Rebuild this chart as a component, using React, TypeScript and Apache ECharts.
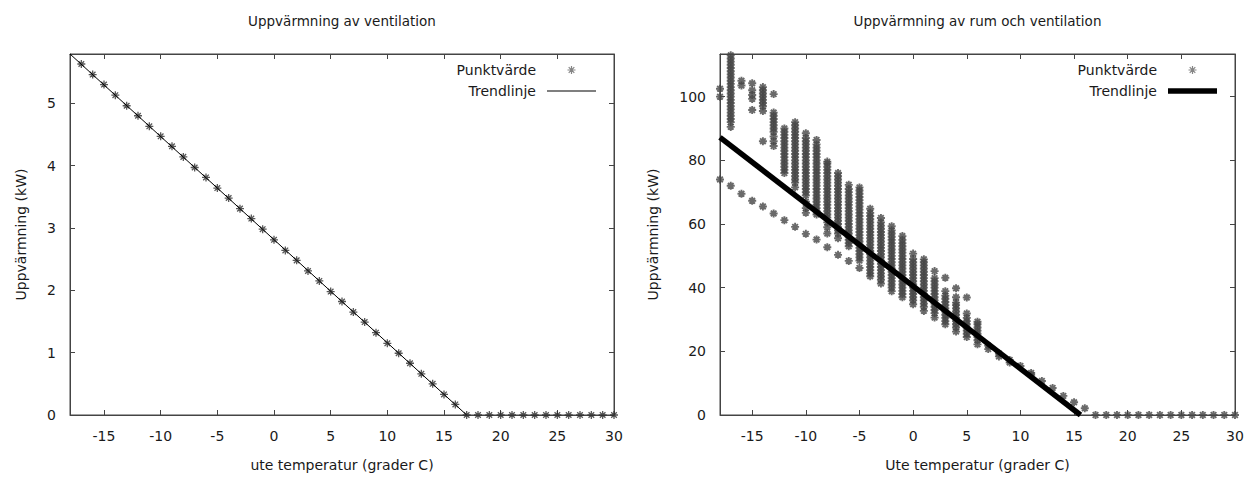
import React, { useEffect, useRef } from 'react';
import * as echarts from 'echarts';

const FONT = '"DejaVu Sans", "Liberation Sans", Arial, sans-serif';
const TEXT = '#1a1a1a';
const AXIS = '#444';

// ---------- Left chart: Uppvärmning av ventilation ----------
const ventTemp = [-17, -16, -15, -14, -13, -12, -11, -10, -9, -8, -7, -6, -5, -4, -3, -2, -1, 0, 1, 2, 3, 4, 5, 6, 7, 8, 9, 10, 11, 12, 13, 14, 15, 16, 17, 18, 19, 20, 21, 22, 23, 24, 25, 26, 27, 28, 29, 30];
const ventLoad = [5.63, 5.46, 5.3, 5.13, 4.96, 4.8, 4.63, 4.47, 4.31, 4.14, 3.97, 3.81, 3.64, 3.48, 3.31, 3.15, 2.98, 2.81, 2.64, 2.48, 2.31, 2.15, 1.98, 1.82, 1.65, 1.49, 1.32, 1.15, 0.99, 0.83, 0.66, 0.5, 0.33, 0.17, 0, 0, 0, 0, 0, 0, 0, 0, 0, 0, 0, 0, 0, 0];
const ventTrendTemp = [-18, 17];
const ventTrendLoad = [5.79, 0];
const ventYTicks = [0, 1, 2, 3, 4, 5];

// ---------- Right chart: Uppvärmning av rum och ventilation ----------
const roomTemp = [-18, -17, -16, -15, -14, -13, -12, -11, -10, -9, -8, -7, -6, -5, -4, -3, -2, -1, 0, 1, 2, 3, 4, 5, 6, 7, 8, 9, 10, 11, 12, 13, 14, 15, 16, 17, 18, 19, 20, 21, 22, 23, 24, 25, 26, 27, 28, 29, 30];
const roomLoad: number[][] = [
  [74, 100, 102.5],
  [72, 90.5, 92, 93, 94, 95, 96, 97, 98, 99, 100, 101, 102, 103, 104, 105, 106, 107, 108, 109, 110, 111, 112, 113],
  [69.5, 103.5, 105],
  [67.3, 95.8, 99.3, 100.5, 102, 104.2],
  [65.5, 86, 95.5, 97, 98, 99, 100, 101, 102, 103],
  [63.3, 84.5, 86, 87.5, 89, 90, 91, 92, 93, 94, 95, 100.8],
  [61.2, 76, 77, 78, 79, 80, 81, 82, 83, 84, 85, 86, 87, 88, 89, 90],
  [59.1, 71.5, 73, 74, 75, 76, 77, 78, 79, 80, 81, 82, 83, 84, 85, 86, 87, 88, 89, 90, 91, 92],
  [56.9, 63.5, 65, 67, 69, 70, 71, 72, 73, 74, 75, 76, 77, 78, 79, 80, 81, 82, 83, 84, 85, 86, 87, 88.5],
  [55.1, 63, 64, 65, 66, 67, 68, 69, 70, 71, 72, 73, 74, 75, 76, 77, 78, 79, 80, 81, 82, 83, 84, 85, 86.4],
  [52.7, 57, 59, 60.5, 62, 63, 64, 65, 66, 67, 68, 69, 70, 71, 72, 73, 74, 75, 76, 77, 78, 79, 79.6],
  [50.3, 55.5, 57, 58, 59, 60, 61, 62, 63, 64, 65, 66, 67, 68, 69, 70, 71, 72, 73, 74, 75, 76],
  [48.4, 53, 54, 55, 56, 57, 58, 59, 60, 61, 62, 63, 64, 65, 66, 67, 68, 69, 70, 71, 72.3],
  [46.2, 48.5, 49.5, 50.5, 51.5, 52.5, 53.5, 54.5, 55.5, 56.5, 57.5, 58.5, 59.5, 60.5, 61.5, 62.5, 63.5, 64.5, 65.5, 66.5, 67.5, 68.5, 69.5, 70.5, 71.5],
  [43.6, 44.5, 45.5, 46.5, 47.5, 48.5, 49.5, 50.5, 51.5, 52.5, 53.5, 54.5, 55.5, 56.5, 57.5, 58.5, 59.5, 60.5, 61.5, 62.5, 63.5, 64.8],
  [41.3, 42.5, 43.5, 44.5, 45.5, 46.5, 47.5, 48.5, 49.5, 50.5, 51.5, 52.5, 53.5, 54.5, 55.5, 56.5, 57.5, 58.5, 59.5, 60.5, 61.9],
  [38.9, 40, 41, 42, 43, 44, 45, 46, 47, 48, 49, 50, 51, 52, 53, 54, 55, 56, 57, 58, 59.3],
  [37, 38, 39, 40, 41, 42, 43, 44, 45, 46, 47, 48, 49, 50, 51, 52, 53, 54, 55, 56.2],
  [34.8, 36, 37, 38, 39, 40, 41, 42, 43, 44, 45, 46, 47, 48, 49, 50.7],
  [32.7, 34, 35, 36, 37, 38, 39, 40, 41, 42, 43, 44, 45, 46, 47, 48, 48.9],
  [30.6, 32, 33, 34, 35, 36, 37, 38, 39, 40, 41, 42, 43, 45.2],
  [28.5, 29.5, 30.5, 31.5, 32.5, 33.5, 34.5, 35.5, 36.5, 37.5, 38.9, 43.1],
  [26.2, 27.5, 28.5, 29.5, 30.5, 31.5, 32.5, 33.5, 34.5, 35.3, 37, 39.8],
  [24.5, 25.5, 26.5, 27.5, 28.5, 29.5, 30.5, 31.9, 36.9],
  [22.2, 23.5, 24.5, 25.5, 26.5, 27.5, 28.5, 29.3],
  [20.7, 21.8],
  [18.4, 19.3],
  [16.5, 17.3],
  [15.4],
  [12.6, 13.2],
  [10.7],
  [8.5],
  [6.0],
  [4.0],
  [2.1],
  [0], [0], [0], [0], [0], [0], [0], [0], [0], [0], [0], [0], [0], [0],
];
const roomTrendTemp = [-18, 15.6];
const roomTrendLoad = [87.2, 0];
const roomYTicks = [0, 20, 40, 60, 80, 100];

const xTicks = [-15, -10, -5, 0, 5, 10, 15, 20, 25, 30];

const STAR = 'path://M4 0L4 8M0 4L8 4M1.2 1.2L6.8 6.8M1.2 6.8L6.8 1.2';

interface Cfg {
  title: string;
  titleX: number;
  gridLeft: number;
  gridRight: number;
  yMax: number;
  yTicks: number[];
  yNameGap: number;
  xName: string;
  points: number[][];
  trend: number[][];
  lineWidth: number;
  legendRight: number;
  starColor: string;
  starWidth: number;
}

function buildOption(c: Cfg): any {
  const tickStyle = { color: AXIS, width: 1 };
  const labelStyle = { fontSize: 14, color: TEXT, fontFamily: FONT };
  const lineIcon = `path://M0 0H49V${c.lineWidth}H0Z`;
  return {
    animation: false,
    backgroundColor: '#fff',
    textStyle: { fontFamily: FONT },
    graphic: [
      {
        type: 'text',
        x: c.titleX,
        y: 21,
        style: {
          text: c.title,
          fill: TEXT,
          font: `13.5px ${FONT}`,
          align: 'center',
          verticalAlign: 'middle',
        },
      },
    ],
    grid: {
      left: c.gridLeft,
      right: c.gridRight,
      top: 54,
      bottom: 61,
      show: true,
      borderColor: AXIS,
      borderWidth: 1,
      backgroundColor: 'transparent',
    },
    legend: {
      orient: 'vertical',
      right: c.legendRight,
      top: 58,
      align: 'right',
      itemWidth: 49,
      itemHeight: 8,
      itemGap: 7,
      selectedMode: false,
      textStyle: { fontSize: 14, color: TEXT, fontFamily: FONT, lineHeight: 14, padding: [0, 6, 0, 0] },
      data: [
        {
          name: 'Punktvärde',
          icon: STAR,
          itemStyle: { color: 'rgba(0,0,0,0)', borderColor: '#666', borderWidth: 1.2 },
        },
        {
          name: 'Trendlinje',
          icon: lineIcon,
          itemStyle: { color: '#000', borderWidth: 0 },
        },
      ],
    },
    xAxis: [
      {
        type: 'value',
        min: -18,
        max: 30,
        position: 'bottom',
        name: c.xName,
        nameLocation: 'middle',
        nameGap: 43,
        nameTextStyle: { fontSize: 14, color: TEXT, fontFamily: FONT },
        axisLine: { show: true, onZero: false, lineStyle: tickStyle },
        axisTick: { show: true, inside: true, length: 5, customValues: xTicks, lineStyle: tickStyle },
        axisLabel: { customValues: xTicks, margin: 14, ...labelStyle },
        splitLine: { show: false },
      },
      {
        type: 'value',
        min: -18,
        max: 30,
        position: 'top',
        axisLine: { show: true, onZero: false, lineStyle: tickStyle },
        axisTick: { show: true, inside: true, length: 5, customValues: xTicks, lineStyle: tickStyle },
        axisLabel: { show: false },
        splitLine: { show: false },
      },
    ],
    yAxis: [
      {
        type: 'value',
        min: 0,
        max: c.yMax,
        position: 'left',
        name: 'Uppvärmning (kW)',
        nameLocation: 'middle',
        nameGap: c.yNameGap,
        nameRotate: 90,
        nameTextStyle: { fontSize: 14, color: TEXT, fontFamily: FONT },
        axisLine: { show: true, onZero: false, lineStyle: tickStyle },
        axisTick: { show: true, inside: true, length: 5, customValues: c.yTicks, lineStyle: tickStyle },
        axisLabel: { customValues: c.yTicks, margin: 14, ...labelStyle },
        splitLine: { show: false },
      },
      {
        type: 'value',
        min: 0,
        max: c.yMax,
        position: 'right',
        axisLine: { show: true, onZero: false, lineStyle: tickStyle },
        axisTick: { show: true, inside: true, length: 5, customValues: c.yTicks, lineStyle: tickStyle },
        axisLabel: { show: false },
        splitLine: { show: false },
      },
    ],
    series: [
      {
        name: 'Punktvärde',
        type: 'scatter',
        xAxisIndex: 0,
        yAxisIndex: 0,
        symbol: STAR,
        symbolSize: 8,
        symbolKeepAspect: true,
        itemStyle: { color: 'rgba(0,0,0,0)', borderColor: c.starColor, borderWidth: c.starWidth },
        data: c.points,
        z: 2,
      },
      {
        name: 'Trendlinje',
        type: 'line',
        xAxisIndex: 0,
        yAxisIndex: 0,
        symbol: 'none',
        showSymbol: false,
        lineStyle: { color: '#000', width: c.lineWidth, cap: 'butt' },
        itemStyle: { color: '#000' },
        data: c.trend,
        z: 3,
      },
    ],
  };
}

export default function App() {
  const leftRef = useRef<HTMLDivElement>(null);
  const rightRef = useRef<HTMLDivElement>(null);

  useEffect(() => {
    const left = echarts.init(leftRef.current!, undefined, { renderer: 'svg' });
    const right = echarts.init(rightRef.current!, undefined, { renderer: 'svg' });

    const ventPoints = ventTemp.map((t, i) => [t, ventLoad[i]]);
    const ventTrend = ventTrendTemp.map((t, i) => [t, ventTrendLoad[i]]);
    const roomPoints: number[][] = [];
    roomTemp.forEach((t, i) => roomLoad[i].forEach((v) => roomPoints.push([t, v])));
    const roomTrend = roomTrendTemp.map((t, i) => [t, roomTrendLoad[i]]);

    left.setOption(
      buildOption({
        title: 'Uppvärmning av ventilation',
        titleX: 342,
        gridLeft: 70,
        gridRight: 14,
        yMax: 5.79,
        yTicks: ventYTicks,
        yNameGap: 42,
        xName: 'ute temperatur (grader C)',
        points: ventPoints,
        trend: ventTrend,
        lineWidth: 1,
        legendRight: 27,
        starColor: '#2e2e2e',
        starWidth: 1.3,
      })
    );
    right.setOption(
      buildOption({
        title: 'Uppvärmning av rum och ventilation',
        titleX: 349.5,
        gridLeft: 92,
        gridRight: 20,
        yMax: 113.4,
        yTicks: roomYTicks,
        yNameGap: 60,
        xName: 'Ute temperatur (grader C)',
        points: roomPoints,
        trend: roomTrend,
        lineWidth: 5.5,
        legendRight: 33,
        starColor: '#454545',
        starWidth: 1.9,
      })
    );
    return () => {
      left.dispose();
      right.dispose();
    };
  }, []);

  return (
    <div style={{ position: 'absolute', left: 0, top: 0, width: 1255, height: 477, background: '#fff' }}>
      <div ref={leftRef} style={{ position: 'absolute', left: 0, top: 0, width: 628, height: 477 }} />
      <div ref={rightRef} style={{ position: 'absolute', left: 628, top: 0, width: 627, height: 477 }} />
    </div>
  );
}
